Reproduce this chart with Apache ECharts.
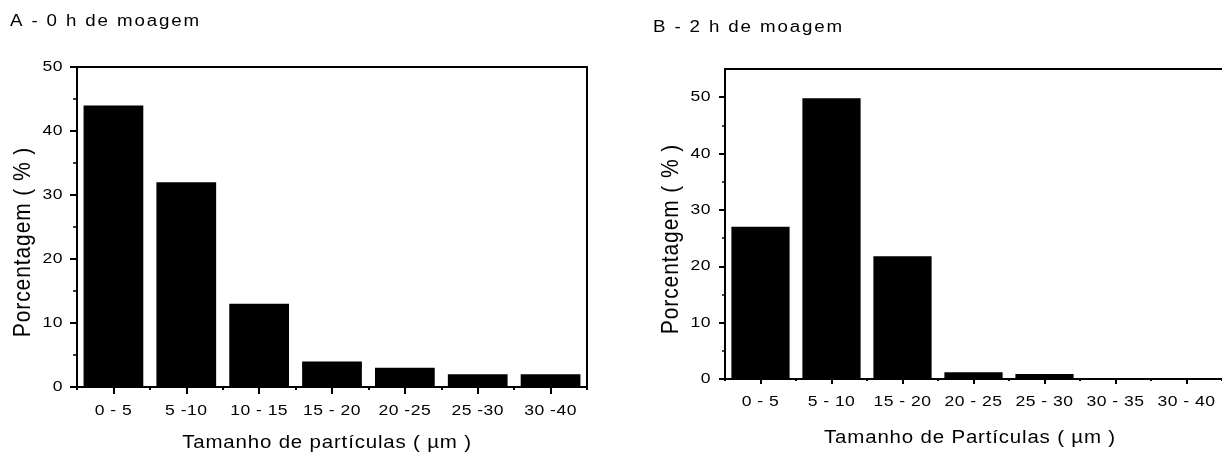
<!DOCTYPE html>
<html>
<head>
<meta charset="utf-8">
<script src="https://cdn.jsdelivr.net/npm/echarts@6/dist/echarts.min.js"></script>
<style>
html,body{margin:0;padding:0;background:#fff;}
#chart{width:1222px;height:453px;}
</style>
</head>
<body>
<div id="chart"></div>
<script>
// ---- data ----
const titleA = 'A - 0 h de moagem';
const titleB = 'B - 2 h de moagem';
const categoriesA = ['0 - 5', '5 -10', '10 - 15', '15 - 20', '20 -25', '25 -30', '30 -40'];
const valuesA = [44, 32, 13, 4, 3, 2, 2];
const categoriesB = ['0 - 5', '5 - 10', '15 - 20', '20 - 25', '25 - 30', '30 - 35', '30 - 40'];
const valuesB = [27, 49.8, 21.8, 1.2, 0.9, 0, 0];
const yTicksA = [0, 10, 20, 30, 40, 50];
const yMinorA = [5, 15, 25, 35, 45];
const yTicksB = [0, 10, 20, 30, 40, 50];
const yMinorB = [5, 15, 25, 35, 45];
const xNameA = 'Tamanho de partículas ( µm )';
const xNameB = 'Tamanho de Partículas ( µm )';
const yName = 'Porcentagem ( % )';

// The original figure's lettering is horizontally widened; emulate with a
// per-font-size stretch and letter spacing applied when text is painted.
const TEXT_LOOK = {
  '15px':   {ls: '0.4px', sx: 1.17, sy: 1},
  '16px':   {ls: '1.6px', sx: 1.17, sy: 1},
  '17.5px': {ls: '0.7px', sx: 1.17, sy: 1},
  '21px':   {ls: '0.9px', sx: 1,    sy: 1.1}
};
const origFill = CanvasRenderingContext2D.prototype.fillText;
CanvasRenderingContext2D.prototype.fillText = function (t, x, y, w) {
  const m = /([\d.]+px)/.exec(this.font || '');
  const look = m && TEXT_LOOK[m[1]];
  if (!look) return w === undefined ? origFill.call(this, t, x, y) : origFill.call(this, t, x, y, w);
  this.save();
  try { this.letterSpacing = look.ls; } catch (e) {}
  this.translate(x, y);
  this.scale(look.sx, look.sy);
  const r = origFill.call(this, t, 0, 0);
  this.restore();
  return r;
};

const FF = 'Liberation Sans, Arial, sans-serif';
const BLACK = '#000';

function bottomAxis(grid, cats, name, gap, tickLen, nameShift, margin) {
  return {
    gridIndex: grid, type: 'category', data: cats, position: 'bottom',
    axisLine: {show: true, onZero: false, lineStyle: {color: BLACK, width: 2}},
    axisTick: {show: true, alignWithLabel: true, length: tickLen, lineStyle: {color: BLACK, width: 2}},
    axisLabel: {interval: 0, margin: margin, fontSize: 15, color: BLACK, fontFamily: FF, hideOverlap: false},
    splitLine: {show: false},
    name: name, nameLocation: 'middle', nameGap: gap,
    nameTextStyle: {fontSize: 17.5, color: BLACK, fontFamily: FF, padding: nameShift}
  };
}
function boundaryAxis(grid, cats, len) {
  return {
    gridIndex: grid, type: 'category', data: cats, position: 'bottom',
    axisLine: {show: false, onZero: false},
    axisTick: {show: true, length: len, lineStyle: {color: BLACK, width: 2}},
    axisLabel: {show: false}, splitLine: {show: false}
  };
}
function topAxis(grid, cats) {
  return {
    gridIndex: grid, type: 'category', data: cats, position: 'top',
    axisLine: {show: true, onZero: false, lineStyle: {color: BLACK, width: 2}},
    axisTick: {show: false}, axisLabel: {show: false}, splitLine: {show: false}
  };
}
function leftAxis(grid, max, ticks, tickLen) {
  return {
    gridIndex: grid, type: 'value', min: 0, max: max, position: 'left',
    axisLine: {show: true, onZero: false, lineStyle: {color: BLACK, width: 2}},
    axisTick: {show: true, customValues: ticks, length: tickLen, lineStyle: {color: BLACK, width: 2}},
    axisLabel: {customValues: ticks, margin: 14, fontSize: 15, color: BLACK, fontFamily: FF},
    splitLine: {show: false},
    name: yName, nameLocation: 'middle', nameGap: 43,
    nameTextStyle: {fontSize: 21, color: BLACK, fontFamily: FF, padding: [0, 30, 0, 0]}
  };
}
function minorAxis(grid, max, ticks, len) {
  return {
    gridIndex: grid, type: 'value', min: 0, max: max, position: 'left',
    axisLine: {show: false, onZero: false},
    axisTick: {show: true, customValues: ticks, length: len, lineStyle: {color: BLACK, width: 1.5}},
    axisLabel: {show: false}, splitLine: {show: false}
  };
}
function rightAxis(grid, max) {
  return {
    gridIndex: grid, type: 'value', min: 0, max: max, position: 'right',
    axisLine: {show: true, onZero: false, lineStyle: {color: BLACK, width: 2}},
    axisTick: {show: false}, axisLabel: {show: false}, splitLine: {show: false}
  };
}

const chart = echarts.init(document.getElementById('chart'), null, {renderer: 'canvas'});
chart.setOption({
  animation: false,
  backgroundColor: '#fff',
  title: [
    {text: titleA, left: 10, top: 14, padding: 0,
     textStyle: {fontSize: 16, fontWeight: 'normal', color: BLACK, fontFamily: FF}},
    {text: titleB, left: 653, top: 20, padding: 0,
     textStyle: {fontSize: 16, fontWeight: 'normal', color: BLACK, fontFamily: FF}}
  ],
  grid: [
    {left: 77, top: 67, width: 510, height: 320, containLabel: false, outerBoundsMode: 'none'},
    {left: 725, top: 69, width: 497, height: 310, containLabel: false, outerBoundsMode: 'none'}
  ],
  xAxis: [
    bottomAxis(0, categoriesA, xNameA, 47, 7, [0, 10, 0, 0], 16),
    boundaryAxis(0, categoriesA, 3),
    topAxis(0, categoriesA),
    bottomAxis(1, categoriesB, xNameB, 50, 5, [0, 7, 0, 0], 15),
    boundaryAxis(1, categoriesB, 2),
    topAxis(1, categoriesB)
  ],
  yAxis: [
    leftAxis(0, 50, yTicksA, 7),
    minorAxis(0, 50, yMinorA, 4),
    rightAxis(0, 50),
    leftAxis(1, 55, yTicksB, 6),
    minorAxis(1, 55, yMinorB, 3)
  ],
  series: [
    {type: 'bar', xAxisIndex: 0, yAxisIndex: 0, data: valuesA, barCategoryGap: '18%',
     itemStyle: {color: BLACK}},
    {type: 'bar', xAxisIndex: 3, yAxisIndex: 3, data: valuesB, barCategoryGap: '18%',
     itemStyle: {color: BLACK}}
  ]
});
</script>
</body>
</html>
